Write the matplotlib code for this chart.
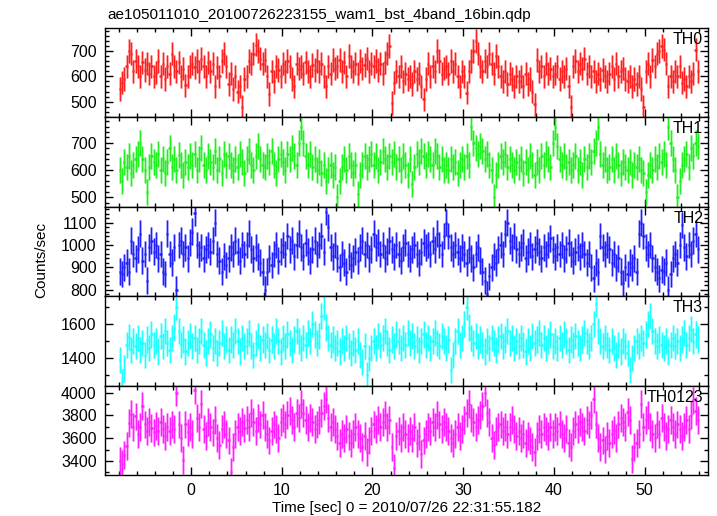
import matplotlib
matplotlib.use("Agg")
import matplotlib.pyplot as plt
from matplotlib.ticker import MultipleLocator
import numpy as np

plt.rcParams["font.family"] = ["Liberation Sans", "DejaVu Sans"]

title = "ae105011010_20100726223155_wam1_bst_4band_16bin.qdp"
xlabel = "Time [sec] 0 = 2010/07/26 22:31:55.182"
ylabel = "Counts/sec"

# 0.25 s bins starting at t = -8 s
t_start = -8.0
bin_w = 0.25

th0 = [
    550, 575, 590, 640, 700, 690, 620, 660, 640, 600, 655, 625, 650, 610, 640, 600,
    615, 660, 600, 650, 590, 640, 610, 690, 640, 620, 655, 600, 630, 565, 600, 640,
    650, 635, 660, 620, 670, 640, 600, 655, 620, 650, 560, 635, 600, 660, 690, 640,
    570, 610, 550, 600, 540, 560, 480, 590, 600, 660, 650, 690, 725, 700, 670, 650,
    665, 600, 530, 620, 580, 640, 625, 600, 650, 620, 660, 640, 590, 560, 650, 630,
    640, 610, 655, 620, 600, 645, 625, 660, 620, 650, 600, 560, 640, 610, 665, 630,
    640, 665, 620, 655, 600, 680, 640, 620, 650, 610, 660, 630, 645, 670, 620, 650,
    640, 660, 625, 650, 610, 655, 690, 720, 495, 575, 620, 600, 640, 580, 610, 590,
    600, 570, 620, 590, 610, 560, 510, 590, 650, 600, 640, 620, 700, 660, 610, 630,
    640, 610, 660, 620, 650, 600, 560, 620, 600, 535, 620, 660, 700, 740, 690, 640,
    620, 660, 640, 690, 650, 610, 680, 640, 600, 580, 620, 570, 610, 590, 560, 600,
    580, 600, 560, 610, 570, 590, 540, 490, 665, 620, 640, 600, 650, 610, 630, 600,
    610, 640, 590, 620, 600, 630, 560, 480, 640, 660, 620, 650, 630, 670, 610, 640,
    600, 620, 580, 610, 590, 625, 600, 580, 610, 640, 590, 650, 600, 620, 630, 590,
    580, 600, 560, 590, 570, 600, 550, 480, 620, 650, 600, 665, 640, 690, 700, 720,
    705, 650, 560, 600, 580, 620, 600, 640, 575, 590, 560, 600, 580, 610, 705, 620,
]
th1 = [
    600, 560, 630, 610, 650, 590, 620, 640, 660, 700, 640, 600, 520, 610, 650, 630,
    620, 660, 600, 640, 590, 630, 680, 610, 640, 600, 655, 620, 580, 630, 610, 650,
    620, 660, 600, 640, 680, 620, 600, 650, 630, 610, 670, 600, 640, 590, 660, 620,
    650, 620, 600, 640, 610, 660, 630, 590, 640, 670, 620, 600, 650, 690, 640, 620,
    610, 650, 630, 670, 620, 590, 640, 660, 630, 600, 660, 640, 680, 650, 620, 700,
    760, 700, 650, 620, 660, 610, 640, 600, 630, 590, 620, 560, 600, 620, 580, 610,
    500, 560, 610, 640, 600, 650, 620, 590, 620, 510, 580, 620, 650, 610, 640, 660,
    620, 650, 600, 630, 670, 640, 610, 650, 630, 660, 610, 640, 600, 650, 620, 580,
    640, 550, 610, 660, 630, 670, 650, 620, 660, 640, 620, 670, 650, 610, 640, 600,
    620, 600, 640, 610, 630, 590, 620, 640, 610, 650, 620, 760, 700, 680, 660, 690,
    670, 640, 660, 620, 600, 500, 580, 620, 650, 630, 660, 610, 640, 620, 600, 630,
    610, 640, 590, 630, 600, 650, 620, 580, 630, 600, 650, 620, 660, 640, 610, 700,
    760, 690, 640, 620, 650, 610, 630, 600, 620, 650, 600, 630, 580, 640, 610, 650,
    630, 670, 700, 760, 660, 620, 640, 600, 610, 640, 600, 650, 620, 590, 630, 610,
    600, 630, 580, 620, 610, 640, 600, 590, 520, 580, 620, 600, 640, 610, 650, 630,
    660, 620, 760, 700, 640, 600, 500, 560, 620, 640, 660, 610, 680, 650, 700, 690,
]
th2 = [
    880, 870, 900, 920, 880, 1020, 960, 940, 980, 1050, 930, 960, 840, 990, 1020, 970,
    1000, 940, 960, 880, 870, 1050, 960, 920, 990, 800, 1000, 1020, 960, 990, 940, 1010,
    1060, 1145, 1000, 960, 990, 940, 980, 1000, 970, 1020, 1100, 960, 930, 880, 950, 910,
    940, 990, 960, 1020, 970, 930, 1000, 960, 1000, 1050, 980, 940, 990, 950, 920, 880,
    800, 880, 940, 910, 960, 1000, 930, 970, 1000, 960, 1040, 980, 1020, 950, 1000, 1050,
    990, 950, 1010, 970, 930, 980, 1020, 960, 1000, 1040, 970, 1150, 1080, 990, 950, 1000,
    940, 900, 960, 920, 880, 950, 910, 940, 970, 930, 990, 1020, 960, 1000, 940, 980,
    1050, 990, 1010, 960, 1000, 940, 970, 1020, 980, 950, 1000, 960, 930, 990, 1010, 960,
    940, 980, 1000, 960, 920, 970, 1010, 990, 1000, 960, 1020, 980, 1050, 1000, 960, 1040,
    1100, 1040, 990, 960, 1000, 970, 940, 990, 960, 920, 980, 940, 900, 960, 990, 930,
    880, 840, 780, 860, 900, 950, 920, 980, 1000, 960, 1050, 1100, 1020, 990, 1040, 980,
    960, 990, 1010, 940, 970, 1000, 950, 980, 1010, 970, 940, 990, 960, 1000, 1030, 980,
    950, 990, 960, 1000, 940, 980, 1010, 960, 930, 970, 990, 950, 1000, 960, 920, 960,
    900, 850, 920, 880, 1040, 990, 960, 1000, 980, 920, 960, 900, 940, 880, 830, 900,
    870, 920, 900, 940, 880, 1050, 1100, 1040, 990, 960, 1000, 940, 900, 880, 850, 890,
    880, 920, 800, 870, 940, 960, 920, 1000, 1090, 990, 950, 1000, 960, 1020, 1050, 980,
]
th3 = [
    1390, 1260, 1340, 1480, 1525, 1450, 1500, 1470, 1520, 1450, 1490, 1420, 1510, 1460, 1540, 1480,
    1500, 1440, 1530, 1470, 1560, 1490, 1450, 1520, 1580, 1700, 1560, 1480, 1510, 1440, 1490, 1530,
    1470, 1520, 1450, 1500, 1560, 1480, 1430, 1500, 1540, 1460, 1500, 1430, 1490, 1550, 1470, 1510,
    1450, 1510, 1480, 1560, 1500, 1440, 1520, 1470, 1500, 1550, 1470, 1420, 1490, 1530, 1460, 1510,
    1480, 1530, 1450, 1510, 1470, 1560, 1500, 1440, 1520, 1470, 1540, 1490, 1450, 1510, 1560, 1500,
    1460, 1520, 1480, 1550, 1500, 1600, 1540, 1490, 1530, 1650, 1700, 1580, 1520, 1480, 1510, 1460,
    1490, 1440, 1500, 1460, 1520, 1470, 1430, 1490, 1450, 1500, 1420, 1380, 1470, 1300, 1400, 1460,
    1500, 1460, 1530, 1480, 1520, 1560, 1490, 1450, 1510, 1470, 1540, 1500, 1460, 1520, 1480, 1550,
    1490, 1530, 1470, 1510, 1450, 1500, 1540, 1480, 1520, 1460, 1500, 1550, 1490, 1470, 1530, 1500,
    1460, 1510, 1330, 1420, 1500, 1560, 1480, 1520, 1600, 1700, 1580, 1520, 1490, 1530, 1470, 1510,
    1480, 1440, 1500, 1460, 1520, 1490, 1450, 1510, 1530, 1470, 1510, 1560, 1490, 1520, 1460, 1500,
    1470, 1520, 1480, 1440, 1500, 1460, 1530, 1490, 1510, 1550, 1480, 1520, 1460, 1500, 1540, 1470,
    1500, 1460, 1520, 1480, 1540, 1500, 1450, 1510, 1480, 1530, 1490, 1460, 1510, 1550, 1500, 1470,
    1520, 1600, 1720, 1560, 1500, 1470, 1520, 1480, 1450, 1500, 1460, 1420, 1480, 1440, 1500, 1470,
    1430, 1330, 1400, 1460, 1500, 1470, 1520, 1490, 1540, 1600, 1650, 1560, 1500, 1470, 1510, 1480,
    1460, 1500, 1440, 1480, 1520, 1470, 1500, 1460, 1510, 1550, 1480, 1520, 1570, 1500, 1540, 1510,
]
th0123 = [
    3400, 3370, 3450, 3530, 3730, 3810, 3700, 3790, 3640, 3700, 3880, 3720, 3660, 3740, 3690, 3650,
    3710, 3660, 3740, 3680, 3620, 3700, 3660, 3720, 3680, 4000, 3720, 3600, 3410, 3720, 3650, 3700,
    3640, 4020, 3780, 3700, 3900, 3680, 3620, 3740, 3700, 3650, 3760, 3600, 3540, 3680, 3720, 3640,
    3580, 3300, 3520, 3640, 3700, 3660, 3740, 3690, 3760, 3700, 3820, 3740, 3660, 3780, 3720, 3800,
    3700, 3640, 3580, 3660, 3720, 3680, 3600, 3740, 3780, 3720, 3800, 3840, 3760, 3700, 3820, 3780,
    3900, 3820, 3760, 3700, 3780, 3740, 3680, 3720, 3760, 3820, 3880, 3940, 3780, 3700, 3740, 3680,
    3620, 3560, 3640, 3600, 3680, 3620, 3560, 3640, 3700, 3640, 3600, 3520, 3620, 3480, 3580, 3660,
    3720, 3680, 3760, 3700, 3740, 3800, 3700, 3760, 3520, 3340, 3620, 3660, 3600, 3700, 3640, 3600,
    3660, 3600, 3700, 3560, 3620, 3460, 3580, 3640, 3700, 3660, 3740, 3700, 3800, 3720, 3680, 3740,
    3700, 3660, 3600, 3560, 3640, 3700, 3620, 3680, 3760, 3820, 3900, 3780, 3740, 3700, 3760, 3800,
    3880, 4000, 3820, 3740, 3600, 3540, 3660, 3700, 3720, 3660, 3700, 3640, 3700, 3760, 3680, 3620,
    3660, 3600, 3640, 3560, 3620, 3580, 3520, 3480, 3620, 3680, 3640, 3700, 3660, 3620, 3700, 3640,
    3700, 3660, 3720, 3640, 3600, 3680, 3560, 3520, 3660, 3720, 3680, 3740, 3700, 3660, 3760, 3720,
    3800, 3940, 3720, 3600, 3520, 3580, 3500, 3620, 3560, 3640, 3670, 3600, 3720, 3780, 3740, 3700,
    3830, 3760, 3420, 3520, 3560, 3640, 3900, 3700, 3760, 3800, 3700, 3640, 3600, 3720, 3640, 3780,
    3700, 3620, 3680, 3760, 3700, 3640, 3720, 3680, 3620, 3700, 3760, 3680, 3800, 3930, 3840, 3760,
]

names = ["TH0", "TH1", "TH2", "TH3", "TH0123"]
series = [th0, th1, th2, th3, th0123]
errors = [46, 48, 60, 77, 122]
colors = ["#ff2020", "#20f020", "#2020ff", "#20ffff", "#ff20ff"]
ylims = [(439, 792), (465, 795), (771, 1172), (1240, 1765), (3277, 4061)]
major_steps = [100, 100, 100, 200, 200]
minor_steps = [20, 20, 20, 100, 100]

W, H = 717, 516
fig = plt.figure(figsize=(W / 100, H / 100), dpi=100)

left, right = 105, 708
top, bottom = 27.7, 475
panel_h = (bottom - top) / len(series)

axes = []
for i, (name, vals, err, col) in enumerate(zip(names, series, errors, colors)):
    ax = fig.add_axes([left / W, 1 - (top + (i + 1) * panel_h) / H,
                       (right - left) / W, panel_h / H])
    vals = np.asarray(vals, dtype=float)
    t = t_start + bin_w * (np.arange(len(vals)) + 0.5)
    # wide pale error bars, then a thin solid core and the bin steps
    ax.errorbar(t, vals, yerr=err, fmt="none", ecolor=col, elinewidth=2.0,
                capsize=0, alpha=0.4)
    ax.errorbar(t, vals, yerr=err, fmt="none", ecolor=col, elinewidth=0.8,
                capsize=0)
    ax.errorbar(t, vals, xerr=bin_w / 2, fmt="none", ecolor=col,
                elinewidth=1.8, capsize=0)
    ax.set_xlim(-9.5, 57)
    ax.set_ylim(*ylims[i])
    ax.xaxis.set_major_locator(MultipleLocator(10))
    ax.xaxis.set_minor_locator(MultipleLocator(2))
    ax.yaxis.set_major_locator(MultipleLocator(major_steps[i]))
    ax.yaxis.set_minor_locator(MultipleLocator(minor_steps[i]))
    ax.tick_params(which="both", direction="in", top=True, right=True,
                   width=1.0, labelsize=11.5, pad=6)
    ax.tick_params(which="major", length=6)
    ax.tick_params(which="minor", length=3)
    for sp in ax.spines.values():
        sp.set_linewidth(1.0)
    if i < len(series) - 1:
        ax.tick_params(labelbottom=False)
    ax.text(0.992, 0.82, name, transform=ax.transAxes, ha="right",
            va="baseline", fontsize=11.5)
    axes.append(ax)

axes[-1].set_xlabel(xlabel, fontsize=11, labelpad=2)
fig.text(107 / W, 1 - 19 / H, title, fontsize=11, ha="left", va="baseline")
fig.text(41 / W, 1 - 260 / H, ylabel, fontsize=11, rotation=90,
         ha="center", va="center")

fig.savefig("out.png", dpi=100)
